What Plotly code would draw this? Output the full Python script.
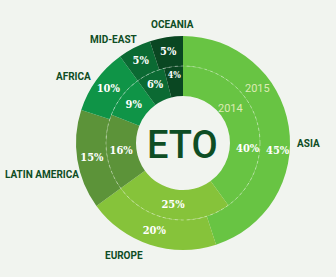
import plotly.graph_objects as go

regions = ["Asia", "Europe", "Latin America", "Africa", "Mid-East", "Oceania"]
display_labels = ["ASIA", "EUROPE", "LATIN AMERICA", "AFRICA", "MID-EAST", "OCEANIA"]
values_2014 = [40, 25, 16, 9, 6, 4]
values_2015 = [45, 20, 15, 10, 5, 5]
colors = ["#68c443", "#86c33a", "#5c9339", "#0f9447", "#0b6a33", "#0a4722"]

W, H = 336, 277
cx, cy = 183, 143
r_out, r_mid, r_in = 107, 77, 47

def px_x(x):
    return x / W

def px_y(y):
    return 1 - y / H

dark = "#0e4d24"
pct_font = dict(family="DejaVu Serif Condensed, Liberation Serif, serif", size=11, color="white", weight="bold")
# Asia's value is written as a separate label (placed lower, as in the reference)
templates = [""] + ["%{value}%"] * (len(regions) - 1)

fig = go.Figure()
fig.add_trace(go.Pie(
    labels=regions, values=values_2015, sort=False, direction="clockwise", rotation=0,
    hole=r_mid / r_out, marker=dict(colors=colors, line=dict(width=0)),
    texttemplate=templates, textposition="inside", insidetextorientation="horizontal",
    textfont=pct_font, showlegend=False, hoverinfo="label+value",
    domain=dict(x=[px_x(cx - r_out), px_x(cx + r_out)], y=[px_y(cy + r_out), px_y(cy - r_out)]),
))
fig.add_trace(go.Pie(
    labels=regions, values=values_2014, sort=False, direction="clockwise", rotation=0,
    hole=r_in / r_mid, marker=dict(colors=colors, line=dict(width=0)),
    texttemplate=templates, textposition="inside", insidetextorientation="horizontal",
    textfont=pct_font, showlegend=False, hoverinfo="label+value",
    domain=dict(x=[px_x(cx - r_mid), px_x(cx + r_mid)], y=[px_y(cy + r_mid), px_y(cy - r_mid)]),
))

label_font = dict(family="Roboto, sans-serif", size=10, color=dark, weight="bold")
label_pos = {"ASIA": (308, 143, "center"), "EUROPE": (124, 255, "center"), "LATIN AMERICA": (3, 174, "left"),
             "AFRICA": (73, 76, "center"), "MID-EAST": (113, 39, "center"), "OCEANIA": (172, 24, "center")}
annotations = []
for lab in display_labels:
    x, y, anc = label_pos[lab]
    annotations.append(dict(x=px_x(x), y=px_y(y), xref="paper", yref="paper", text=lab,
                            showarrow=False, font=label_font, xanchor=anc, yanchor="middle"))

def note(x, y, text, font):
    return dict(x=px_x(x), y=px_y(y), xref="paper", yref="paper", text=text, showarrow=False,
                font=font, xanchor="center", yanchor="middle")

# Asia values
annotations.append(note(248, 148, f"{values_2014[0]}%", pct_font))
annotations.append(note(278, 150, f"{values_2015[0]}%", pct_font))

year_font = dict(family="Roboto, sans-serif", size=11, color="#dcebb4")
annotations.append(note(230, 108, "2014", year_font))
annotations.append(note(257, 88, "2015", year_font))
annotations.append(note(183, 145, "ETO", dict(family="Roboto, sans-serif", size=38, color=dark, weight=500)))

fig.update_layout(
    width=W, height=H, margin=dict(l=0, r=0, t=0, b=0),
    paper_bgcolor="#f1f4ef", plot_bgcolor="#f1f4ef",
    annotations=annotations,
    shapes=[dict(type="circle", xref="paper", yref="paper",
                 x0=px_x(cx - r_mid), x1=px_x(cx + r_mid), y0=px_y(cy + r_mid), y1=px_y(cy - r_mid),
                 line=dict(color="rgba(255,255,255,0.4)", width=1, dash="dot"))],
)
fig.write_html("out.html")
